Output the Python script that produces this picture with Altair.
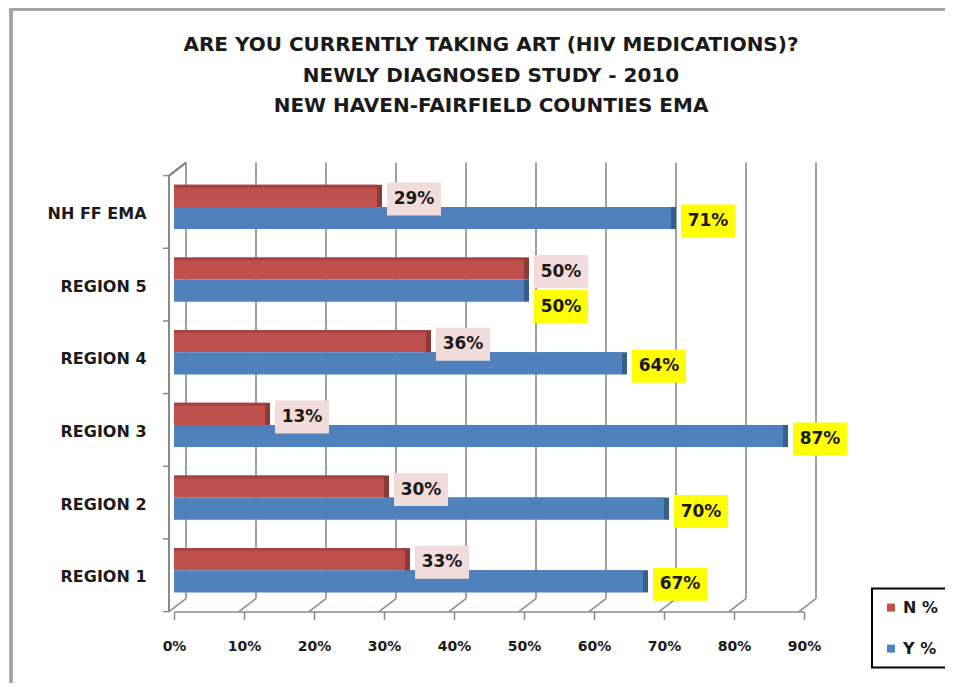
import altair as alt
import pandas as pd

# ---------------- data ----------------
regions = ["NH FF EMA", "REGION 5", "REGION 4", "REGION 3", "REGION 2", "REGION 1"]
n_pct = [0.29, 0.50, 0.36, 0.13, 0.30, 0.33]
y_pct = [0.71, 0.50, 0.64, 0.87, 0.70, 0.67]
series = ["N %", "Y %"]
tick_values = [0.0, 0.1, 0.2, 0.3, 0.4, 0.5, 0.6, 0.7, 0.8, 0.9]
boundaries = [0, 1, 2, 3, 4, 5, 6]
title_lines = [
    "ARE YOU CURRENTLY TAKING ART (HIV MEDICATIONS)?",
    "NEWLY DIAGNOSED  STUDY - 2010",
    "NEW HAVEN-FAIRFIELD  COUNTIES EMA",
]

wide = pd.DataFrame({"region": regions, "n": n_pct, "y": y_pct})
long = pd.DataFrame({
    "region": regions * 2,
    "series": [series[0]] * len(regions) + [series[1]] * len(regions),
    "value": n_pct + y_pct,
})
ticks_df = pd.DataFrame({"t": tick_values})
bound_df = pd.DataFrame({"k": boundaries})

# ---------------- style ----------------
FONT = "DejaVu Sans"
TXT = "#1a1a1a"
RED, BLUE = "#C0504D", "#4F81BD"
RED_D, BLUE_D = "#8E3A38", "#385E8C"
RED_T, BLUE_T = "#A34442", "#41699C"
GRID = "#8a8a8a"
W, H = 630, 436
FX, FY = -5, 5      # front plane shift
BX, BY = 12, -8     # back plane shift

xscale = alt.Scale(domain=[0, 0.9], nice=False, zero=True)
xaxis = alt.Axis(title=None, format=".0%", values=tick_values, offset=FY,
                 domainColor=GRID, domainWidth=1.5, tickColor=GRID, tickWidth=1.5,
                 tickSize=8, grid=False, labelFont=FONT, labelFontSize=14,
                 labelFontWeight="bold", labelColor=TXT, labelPadding=20,
                 labelFlush=False)


def X(field):
    return alt.X(field, type="quantitative", scale=xscale, axis=xaxis)


yaxis = alt.Axis(title=None, domain=False, ticks=False, labelOffset=7, labelPadding=28,
                 labelFont=FONT, labelFontSize=16, labelFontWeight="bold", labelColor=TXT)
yband = alt.Y("region:N", sort=regions,
              scale=alt.Scale(domain=regions, paddingInner=0.39, paddingOuter=0.195),
              axis=yaxis)
yoff = alt.YOffset("series:N", sort=series, scale=alt.Scale(domain=series))

# ---------------- decoration (walls / floor) ----------------
border = alt.Chart(ticks_df).mark_rect(filled=False, stroke="#A6A6A6", strokeWidth=2.5).encode(
    x=alt.value(-163), y=alt.value(-161), x2=alt.value(W + 300), y2=alt.value(H + 300))

back_grid = alt.Chart(ticks_df).mark_rule(color=GRID, strokeWidth=1.6, xOffset=BX).encode(
    x=X("t"), y=alt.value(BY), y2=alt.value(H + BY))

floor_diag = alt.Chart(ticks_df).mark_rule(color=GRID, strokeWidth=1.5, xOffset=FX, x2Offset=BX).encode(
    x=X("t"), x2=alt.X2("t"), y=alt.value(H + FY), y2=alt.value(H + BY))

left_front = alt.Chart(ticks_df).mark_rule(color=GRID, strokeWidth=1.5, xOffset=FX).encode(
    x=alt.datum(0), y=alt.value(FY), y2=alt.value(H + FY))

top_diag = alt.Chart(ticks_df).mark_rule(color=GRID, strokeWidth=1.5, xOffset=FX, x2Offset=BX).encode(
    x=alt.datum(0), x2=alt.datum(0), y=alt.value(FY), y2=alt.value(BY))

# ---------------- bars ----------------
bars = alt.Chart(long).mark_bar().encode(
    x=X("value"), y=yband, yOffset=yoff,
    color=alt.Color("series:N", sort=series,
                    scale=alt.Scale(domain=series, range=[RED, BLUE]),
                    legend=alt.Legend(title=None, orient="none", legendX=698, legendY=418,
                                      symbolType="square", symbolSize=64,
                                      symbolStrokeWidth=0, labelFont=FONT,
                                      labelFontSize=16, labelFontWeight="bold",
                                      labelColor=TXT, padding=11, rowPadding=25,
                                      strokeColor="black")),
)

ends = alt.Chart(long).mark_bar(x2Offset=5).encode(
    x=X("value"), x2=alt.X2("value"), y=yband, yOffset=yoff,
    fill=alt.Fill("series:N", sort=series,
                  scale=alt.Scale(domain=series, range=[RED_D, BLUE_D]), legend=None),
)

red_top = alt.Chart(wide).mark_bar(height=3, yOffset=-20.7, color=RED_T).encode(
    x=X("n"), y=yband)
blue_top = alt.Chart(wide).transform_filter("datum.y > datum.n").mark_bar(
    height=3, yOffset=1.5, color=BLUE_T).encode(x=X("n"), x2=alt.X2("y"), y=yband)

# ---------------- labels ----------------
def label_layer(src, field, fill, dy):
    box = src.mark_bar(height=33, yOffset=dy, xOffset=10, x2Offset=64, color=fill).encode(
        x=X(field), x2=alt.X2(field), y=yband)
    txt = src.mark_text(dx=37, dy=dy, font=FONT, fontSize=17, fontWeight="bold",
                        color=TXT).encode(
        x=X(field), y=yband, text=alt.Text(f"{field}:Q", format=".0%"))
    return box + txt


base_w = alt.Chart(wide)
n_lab = label_layer(base_w, "n", "#F2DCDB", -8)
y_lab = label_layer(base_w.transform_filter("abs(datum.y - datum.n) >= 0.06"), "y", "#FFFF00", 14)
y_lab_shift = label_layer(base_w.transform_filter("abs(datum.y - datum.n) < 0.06"), "y", "#FFFF00", 27)

main = alt.layer(border, back_grid, floor_diag, left_front, top_diag,
                 blue_top, bars, red_top, ends, n_lab, y_lab, y_lab_shift)

left_ticks = alt.Chart(bound_df).mark_rule(color=GRID, strokeWidth=1.5, xOffset=FX - 6,
                                           x2Offset=FX, yOffset=FY).encode(
    x=alt.datum(0), x2=alt.datum(0),
    y=alt.Y("k:Q", scale=alt.Scale(domain=[0, 6], reverse=True, nice=False), axis=None))

chart = alt.layer(main, left_ticks).resolve_scale(y="independent").properties(
    width=W, height=H,
    autosize=alt.AutoSizeParams(type="none"),
    padding={"left": 166, "top": 162.6, "right": 141, "bottom": 76},
    background="white",
    title=alt.TitleParams(text=title_lines, font=FONT, fontSize=20, fontWeight="bold",
                          color=TXT, anchor="middle", align="center", frame="group",
                          dx=2, lineHeight=30.5, offset=-108),
).configure_view(stroke=None).configure_legend(strokeWidth=2)

chart.save("out.html", embed_options={"renderer": "svg", "actions": False})
